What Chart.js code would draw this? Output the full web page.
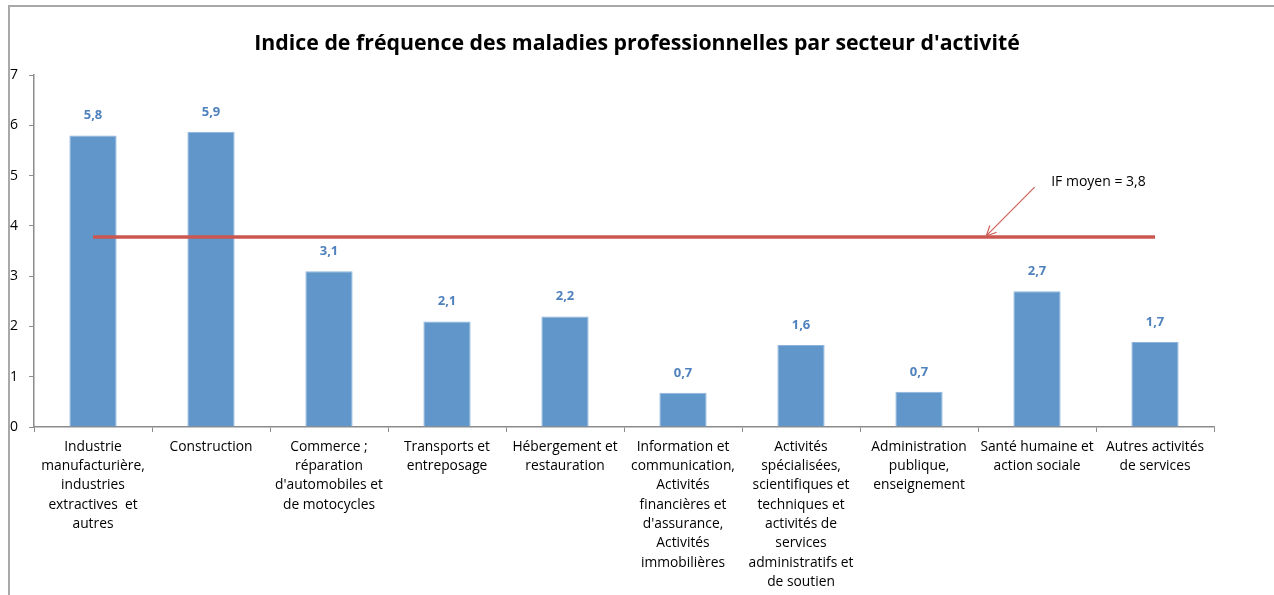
<!DOCTYPE html>
<html lang="fr">
<head>
<meta charset="utf-8">
<title>Indice de fréquence des maladies professionnelles</title>
<script src="https://cdn.jsdelivr.net/npm/chart.js@4/dist/chart.umd.min.js"></script>
<style>
  html, body { margin: 0; padding: 0; background: #fff; }
  #wrap { position: relative; width: 1274px; height: 595px; overflow: hidden; }
  #cadre {
    position: absolute; left: 8px; top: 5px; right: -10px; bottom: -10px;
    border-left: 2px solid #a9a9a9; border-top: 2px solid #a9a9a9;
  }
  canvas { position: absolute; left: 0; top: 0; }
</style>
</head>
<body>
<div id="wrap">
  <div id="cadre"></div>
  <canvas id="chart" width="1274" height="595"></canvas>
</div>
<script>
const titre = "Indice de fréquence des maladies professionnelles par secteur d'activité";

const secteurs = [
  ['Industrie', 'manufacturière,', 'industries', 'extractives  et', 'autres'],
  ['Construction'],
  ['Commerce ;', 'réparation', "d'automobiles et", 'de motocycles'],
  ['Transports et', 'entreposage'],
  ['Hébergement et', 'restauration'],
  ['Information et', 'communication,', 'Activités', 'financières et', "d'assurance,", 'Activités', 'immobilières'],
  ['Activités', 'spécialisées,', 'scientifiques et', 'techniques et', 'activités de', 'services', 'administratifs et', 'de soutien'],
  ['Administration', 'publique,', 'enseignement'],
  ['Santé humaine et', 'action sociale'],
  ['Autres activités', 'de services'],
];

const indices = [5.8, 5.87, 3.1, 2.1, 2.2, 0.68, 1.63, 0.7, 2.7, 1.69];
const moyenne = 3.78;
const moyenneLabel = 'IF moyen = 3,8';
const yTicks = [0, 1, 2, 3, 4, 5, 6, 7];

// position of the callout, in category index / value units
const fleche = { fromX: 7.98, fromY: 4.77, toX: 7.57, toY: 3.8, textX: 8.12, textY: 4.88 };

const FONT = '"Open Sans", Lato, sans-serif';

const valueLabels = {
  id: 'valueLabels',
  afterDatasetsDraw(chart) {
    const { ctx } = chart;
    const meta = chart.getDatasetMeta(1);
    ctx.save();
    ctx.font = `bold 13px ${FONT}`;
    ctx.fillStyle = '#4F81BD';
    ctx.textAlign = 'center';
    ctx.textBaseline = 'middle';
    meta.data.forEach((bar, i) => {
      const txt = indices[i].toLocaleString('fr-FR', { minimumFractionDigits: 1, maximumFractionDigits: 1 });
      ctx.fillText(txt, bar.x, bar.y - 20);
    });
    ctx.restore();
  },
};

const callout = {
  id: 'callout',
  afterDraw(chart) {
    const { ctx, scales: { x, y } } = chart;
    const x1 = x.getPixelForValue(fleche.fromX);
    const y1 = y.getPixelForValue(fleche.fromY);
    const x2 = x.getPixelForValue(fleche.toX);
    const y2 = y.getPixelForValue(fleche.toY);
    ctx.save();
    ctx.strokeStyle = '#D0605A';
    ctx.lineWidth = 1.2;
    ctx.beginPath();
    ctx.moveTo(x1, y1);
    ctx.lineTo(x2, y2);
    const ang = Math.atan2(y2 - y1, x2 - x1);
    const len = 11;
    ctx.moveTo(x2 - len * Math.cos(ang - 0.45), y2 - len * Math.sin(ang - 0.45));
    ctx.lineTo(x2, y2);
    ctx.lineTo(x2 - len * Math.cos(ang + 0.45), y2 - len * Math.sin(ang + 0.45));
    ctx.stroke();
    ctx.font = `14px ${FONT}`;
    ctx.fillStyle = '#000';
    ctx.textAlign = 'left';
    ctx.textBaseline = 'middle';
    ctx.fillText(moyenneLabel, x.getPixelForValue(fleche.textX), y.getPixelForValue(fleche.textY));
    ctx.restore();
  },
};

new Chart(document.querySelector('#chart'), {
  data: {
    labels: secteurs,
    datasets: [
      {
        type: 'line',
        label: 'IF moyen',
        data: secteurs.map(() => moyenne),
        borderColor: '#CB5650',
        borderWidth: 3.5,
        pointRadius: 0,
        order: 0,
      },
      {
        type: 'bar',
        label: 'Indice de fréquence',
        data: indices,
        backgroundColor: '#6096C9',
        borderColor: '#8DB3DA',
        borderWidth: { top: 1, left: 1, right: 1, bottom: 0 },
        barPercentage: 0.4,
        categoryPercentage: 1,
        order: 1,
      },
    ],
  },
  options: {
    responsive: false,
    animation: false,
    layout: { padding: 0 },
    plugins: {
      legend: { display: false },
      tooltip: { enabled: false },
      title: {
        display: true,
        text: titre,
        color: '#000',
        font: { family: FONT, size: 21.3, weight: 'bold' },
        padding: { top: 31, bottom: 18.5 },
      },
    },
    scales: {
      x: {
        offset: true,
        grid: { display: true, drawOnChartArea: false, drawTicks: true, tickLength: 5, color: '#8c8c8c', offset: true },
        border: { color: '#8c8c8c', width: 1.5 },
        ticks: {
          color: '#000',
          maxRotation: 0,
          autoSkip: false,
          padding: 5,
          font: { family: FONT, size: 13.8, lineHeight: 1.4 },
        },
        afterFit(scale) { scale.height = 168; },
      },
      y: {
        min: 0,
        max: 7,
        afterBuildTicks(scale) { scale.ticks = yTicks.map((v) => ({ value: v })); },
        grid: { display: true, drawOnChartArea: false, drawTicks: true, tickLength: 5, color: '#8c8c8c' },
        border: { color: '#8c8c8c', width: 1.5 },
        ticks: {
          color: '#000',
          padding: 11,
          font: { family: FONT, size: 14 },
        },
        afterFit(scale) { scale.width = 34; },
      },
      // empty right margin so the title sits over the whole frame
      marge: {
        position: 'right',
        min: 0,
        max: 7,
        grid: { display: false },
        border: { display: false },
        ticks: { display: false },
        afterFit(scale) { scale.width = 60; },
      },
    },
  },
  plugins: [valueLabels, callout],
});
</script>
</body>
</html>
